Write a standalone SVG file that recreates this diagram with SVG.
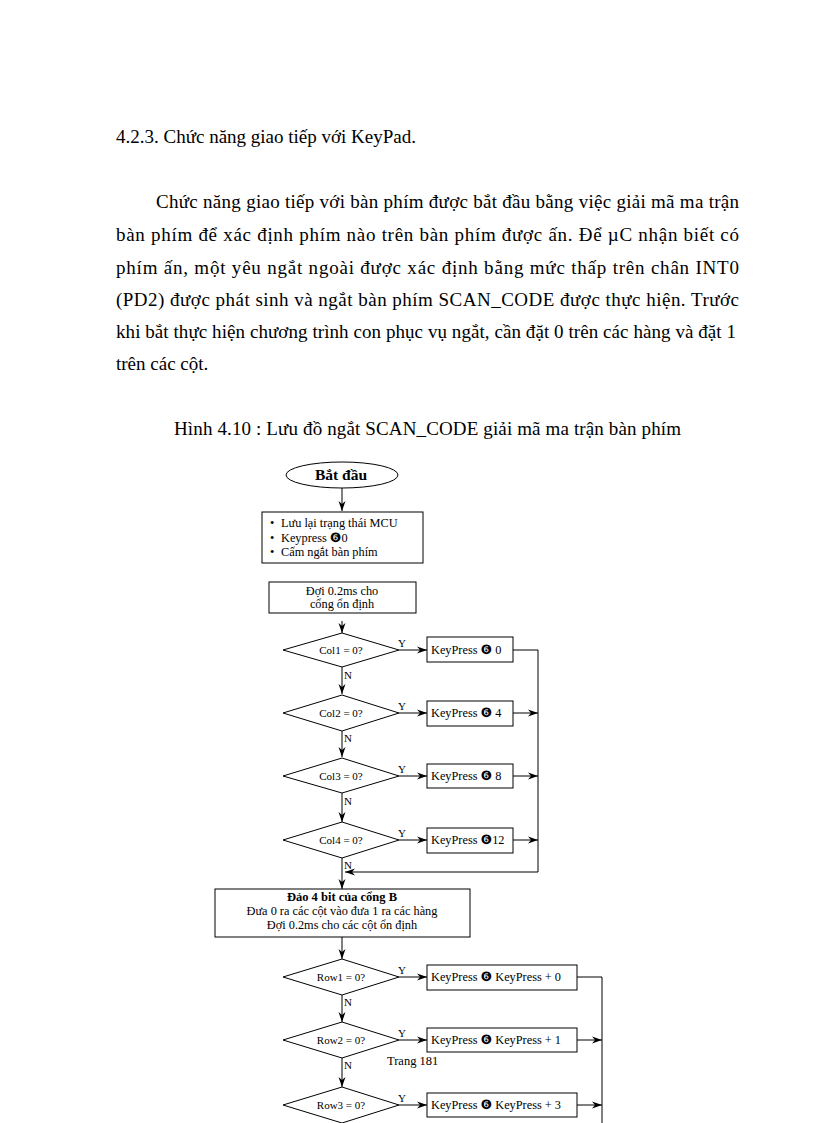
<svg xmlns="http://www.w3.org/2000/svg" width="816" height="1123" viewBox="0 0 816 1123">
<style>
.body{font-family:"Liberation Serif","Times New Roman",serif;font-size:19px;fill:#000}
.t{font-family:"Liberation Serif","Times New Roman",serif;font-size:11px;fill:#000}
.b{font-family:"Liberation Serif","Times New Roman",serif;font-size:12.3px;fill:#000}
.tb{font-family:"Liberation Serif","Times New Roman",serif;font-size:12.5px;font-weight:bold;fill:#000}
.sym{font-family:"DejaVu Sans",sans-serif;font-size:13px}
.s{fill:#fff;stroke:#000;stroke-width:1}
.c{fill:none;stroke:#000;stroke-width:1}
</style>
<defs>
<marker id="ah" markerUnits="userSpaceOnUse" markerWidth="10" markerHeight="8" refX="10" refY="4" orient="auto">
<path d="M0,0.5 L10,4 L0,7.5 L3,4 z" fill="#000"/>
</marker>
</defs>
<rect width="816" height="1123" fill="#fff"/>

<g id="text-body">
<text class="body" x="116" y="143">4.2.3. Chức năng giao tiếp với KeyPad.</text>
<text class="body" x="156" y="208" textLength="583" lengthAdjust="spacing">Chức năng giao tiếp với bàn phím được bắt đầu bằng việc giải mã ma trận</text>
<text class="body" x="116" y="241" textLength="623" lengthAdjust="spacing">bàn phím để xác định phím nào trên bàn phím được ấn. Để µC nhận biết có</text>
<text class="body" x="116" y="274" textLength="623" lengthAdjust="spacing">phím ấn, một yêu ngắt ngoài được xác định bằng mức thấp trên chân INT0</text>
<text class="body" x="116" y="306" textLength="623" lengthAdjust="spacing">(PD2) được phát sinh và ngắt bàn phím SCAN_CODE được thực hiện. Trước</text>
<text class="body" x="116" y="338" textLength="620" lengthAdjust="spacing">khi bắt thực hiện chương trình con phục vụ ngắt, cần đặt 0 trên các hàng và đặt 1</text>
<text class="body" x="116" y="370">trên các cột.</text>
<text class="body" x="174" y="435" textLength="507" lengthAdjust="spacing">Hình 4.10 : Lưu đồ ngắt SCAN_CODE giải mã ma trận bàn phím</text>
</g>

<g id="connectors">
<line class="c" x1="342" y1="487" x2="342" y2="511" marker-end="url(#ah)"/>
<line class="c" x1="342" y1="621" x2="342" y2="633" marker-end="url(#ah)"/>
<line class="c" x1="342" y1="667" x2="342" y2="694" marker-end="url(#ah)"/>
<line class="c" x1="342" y1="731" x2="342" y2="757" marker-end="url(#ah)"/>
<line class="c" x1="342" y1="793" x2="342" y2="822" marker-end="url(#ah)"/>
<line class="c" x1="342" y1="858" x2="342" y2="889" marker-end="url(#ah)"/>
<line class="c" x1="342" y1="937" x2="342" y2="959" marker-end="url(#ah)"/>
<line class="c" x1="342" y1="995" x2="342" y2="1022" marker-end="url(#ah)"/>
<line class="c" x1="342" y1="1058" x2="342" y2="1087" marker-end="url(#ah)"/>

<line class="c" x1="399" y1="650" x2="427" y2="650" marker-end="url(#ah)"/>
<line class="c" x1="399" y1="713" x2="427" y2="713" marker-end="url(#ah)"/>
<line class="c" x1="399" y1="776" x2="427" y2="776" marker-end="url(#ah)"/>
<line class="c" x1="399" y1="840" x2="427" y2="840" marker-end="url(#ah)"/>
<line class="c" x1="399" y1="977" x2="427" y2="977" marker-end="url(#ah)"/>
<line class="c" x1="399" y1="1040" x2="427" y2="1040" marker-end="url(#ah)"/>
<line class="c" x1="399" y1="1105" x2="427" y2="1105" marker-end="url(#ah)"/>

<polyline class="c" points="513,650 538,650 538,872 345,872" marker-end="url(#ah)"/>
<line class="c" x1="513" y1="713" x2="538" y2="713" marker-end="url(#ah)"/>
<line class="c" x1="513" y1="776" x2="538" y2="776" marker-end="url(#ah)"/>
<line class="c" x1="513" y1="840" x2="538" y2="840" marker-end="url(#ah)"/>

<polyline class="c" points="577,977 602,977 602,1123"/>
<line class="c" x1="577" y1="1040" x2="602" y2="1040" marker-end="url(#ah)"/>
<line class="c" x1="577" y1="1105" x2="602" y2="1105" marker-end="url(#ah)"/>

<text class="t" x="398" y="647">Y</text>
<text class="t" x="398" y="710">Y</text>
<text class="t" x="398" y="773">Y</text>
<text class="t" x="398" y="837">Y</text>
<text class="t" x="398" y="974">Y</text>
<text class="t" x="398" y="1037">Y</text>
<text class="t" x="398" y="1102">Y</text>
<text class="t" x="344" y="679">N</text>
<text class="t" x="344" y="742">N</text>
<text class="t" x="344" y="805">N</text>
<text class="t" x="344" y="869">N</text>
<text class="t" x="344" y="1006">N</text>
<text class="t" x="344" y="1069">N</text>
</g>

<g id="start">
<ellipse class="s" cx="342" cy="475" rx="56" ry="13"/>
<text class="tb" x="341" y="480" text-anchor="middle" style="font-size:15.5px">Bắt đầu</text>
</g>

<g id="save-state">
<rect class="s" x="262" y="512" width="161" height="51"/>
<text class="b" x="270" y="527">•</text><text class="b" x="281" y="527">Lưu lại trạng thái MCU</text>
<text class="b" x="270" y="542">•</text><text class="b" x="281" y="542">Keypress <tspan class="sym">❻</tspan>0</text>
<text class="b" x="270" y="556">•</text><text class="b" x="281" y="556">Cấm ngắt bàn phím</text>
</g>

<g id="wait1">
<rect class="s" x="269" y="582" width="147" height="31"/>
<text class="b" x="342" y="595" text-anchor="middle">Đợi 0.2ms cho</text>
<text class="b" x="342" y="608" text-anchor="middle">cổng ổn định</text>
</g>

<g id="col1">
<polygon class="s" points="342,633 399,650 342,667 283,650"/>
<text class="t" x="341" y="654" text-anchor="middle">Col1 = 0?</text>
</g>
<g id="kp0">
<rect class="s" x="427" y="637" width="86" height="25"/>
<text class="b" x="431" y="654">KeyPress <tspan class="sym">❻</tspan> 0</text>
</g>
<g id="col2">
<polygon class="s" points="342,695 399,713 342,731 283,713"/>
<text class="t" x="341" y="717" text-anchor="middle">Col2 = 0?</text>
</g>
<g id="kp4">
<rect class="s" x="427" y="701" width="86" height="25"/>
<text class="b" x="431" y="717">KeyPress <tspan class="sym">❻</tspan> 4</text>
</g>
<g id="col3">
<polygon class="s" points="342,758 399,776 342,793 283,776"/>
<text class="t" x="341" y="780" text-anchor="middle">Col3 = 0?</text>
</g>
<g id="kp8">
<rect class="s" x="427" y="764" width="86" height="24"/>
<text class="b" x="431" y="780">KeyPress <tspan class="sym">❻</tspan> 8</text>
</g>
<g id="col4">
<polygon class="s" points="342,822 399,840 342,858 283,840"/>
<text class="t" x="341" y="844" text-anchor="middle">Col4 = 0?</text>
</g>
<g id="kp12">
<rect class="s" x="427" y="828" width="86" height="25"/>
<text class="b" x="431" y="844">KeyPress <tspan class="sym">❻</tspan>12</text>
</g>

<g id="invert">
<rect class="s" x="215" y="889" width="255" height="48"/>
<text class="tb" x="342" y="901" text-anchor="middle">Đảo 4 bit của cổng B</text>
<text class="b" x="342" y="915" text-anchor="middle">Đưa 0 ra các cột vào đưa 1 ra các hàng</text>
<text class="b" x="342" y="929" text-anchor="middle">Đợi 0.2ms cho các cột ổn định</text>
</g>

<g id="row1">
<polygon class="s" points="342,959 399,977 342,995 283,977"/>
<text class="t" x="341" y="981" text-anchor="middle">Row1 = 0?</text>
</g>
<g id="kpr0">
<rect class="s" x="427" y="965" width="150" height="25"/>
<text class="b" x="431" y="981">KeyPress <tspan class="sym">❻</tspan> KeyPress + 0</text>
</g>
<g id="row2">
<polygon class="s" points="342,1022 399,1040 342,1058 283,1040"/>
<text class="t" x="341" y="1044" text-anchor="middle">Row2 = 0?</text>
</g>
<g id="kpr1">
<rect class="s" x="427" y="1028" width="150" height="24"/>
<text class="b" x="431" y="1044">KeyPress <tspan class="sym">❻</tspan> KeyPress + 1</text>
</g>
<g id="row3">
<polygon class="s" points="342,1087 399,1105 342,1123 283,1105"/>
<text class="t" x="341" y="1109" text-anchor="middle">Row3 = 0?</text>
</g>
<g id="kpr3">
<rect class="s" x="427" y="1093" width="150" height="24"/>
<text class="b" x="431" y="1109">KeyPress <tspan class="sym">❻</tspan> KeyPress + 3</text>
</g>

<g id="page-number">
<text class="t" x="387" y="1065" style="font-size:12.5px">Trang 181</text>
</g>
</svg>
